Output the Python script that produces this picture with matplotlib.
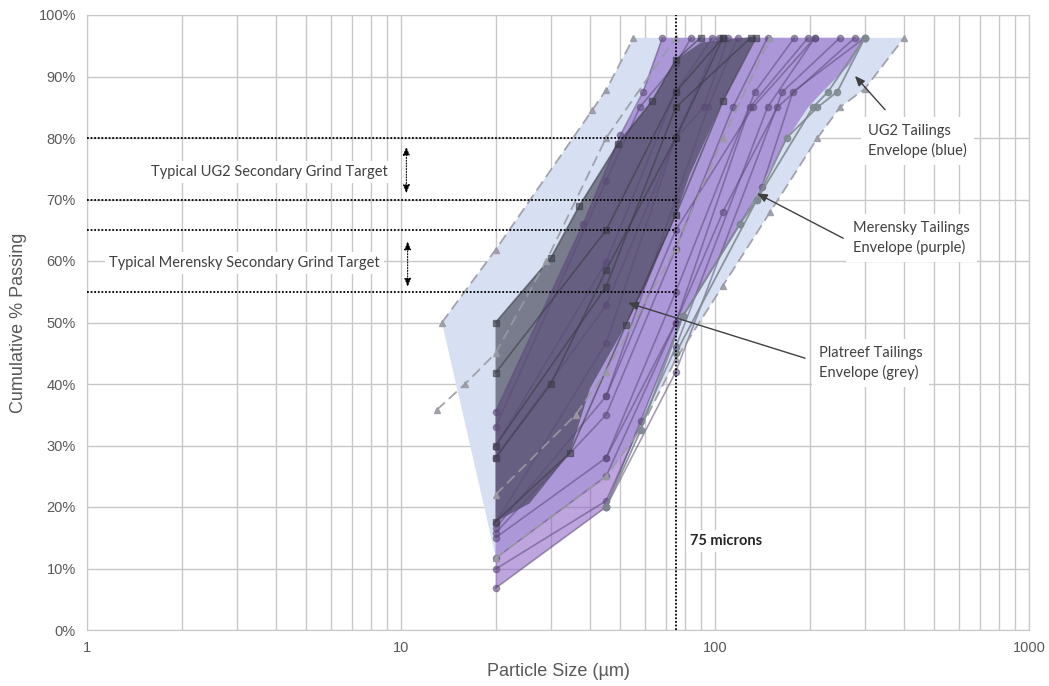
import matplotlib
matplotlib.use("Agg")
import matplotlib.pyplot as plt
from matplotlib.ticker import LogLocator, NullFormatter, FixedLocator, FixedFormatter, PercentFormatter

# ---------------------------------------------------------------------------
# Envelopes (particle size in um, cumulative % passing)
# ---------------------------------------------------------------------------
UG2_ENV_SIZE = [13.5, 20, 40.6, 45, 55, 400, 300, 250, 212, 150, 106, 75, 57.7, 45, 20]
UG2_ENV_PASS = [50, 61.8, 84.5, 87.8, 96.3, 96.3, 88, 85, 80, 68, 56, 44, 32.5, 25, 12]

MER_ENV_SIZE = [20, 20, 38, 50, 56, 59, 68, 300, 269, 220, 198, 173, 136, 120, 79, 58, 45]
MER_ENV_PASS = [6.8, 35.5, 66, 80.5, 85, 87.5, 96.3, 96.3, 92, 87.5, 85, 80.5, 71, 66, 51, 34, 20]

PLAT_ENV_SIZE = [20, 20, 30, 37, 49, 63, 75, 90, 135, 106, 83, 75, 61, 52, 40, 34.5, 25.7]
PLAT_ENV_PASS = [17.6, 50, 60.5, 69, 79, 86, 92.7, 95.5, 96.5, 86, 74, 67.5, 56.6, 49.6, 39.3, 28.8, 20.6]

# ---------------------------------------------------------------------------
# Individual tailings PSD curves
# ---------------------------------------------------------------------------
MER_SIZES = [
    [20, 38, 50, 59, 68],
    [20, 45, 57.6, 75, 84],
    [20, 45, 75, 98],
    [20, 45, 75, 92, 110],
    [20, 45, 75, 103],
    [20, 45, 75, 95, 118],
    [20, 45, 75, 114, 147],
    [20, 45, 75, 134, 179],
    [20, 45, 75, 129, 198],
    [20, 45, 75, 147, 208],
    [20, 45, 75, 164, 250],
    [45, 58, 79, 120, 141, 177, 300],
    [45, 75, 132, 208],
    [45, 75, 106, 158, 279],
]
MER_PASS = [
    [35.5, 66, 80.5, 87.5, 96.3],
    [33, 73, 85, 92, 96.3],
    [29.8, 59.8, 87.5, 96.3],
    [28, 52.8, 80, 85, 96.3],
    [17.4, 46.7, 80, 96.3],
    [16.6, 38, 70, 85, 96.3],
    [15.8, 35, 62, 85, 96.3],
    [15, 28, 55, 87.5, 96.3],
    [11.7, 25, 50, 85, 96.3],
    [9.9, 21, 46, 85, 96.3],
    [6.8, 20, 42, 87.5, 96.3],
    [20, 34, 51, 66, 72, 87.5, 96.3],
    [38, 65, 85, 96.3],
    [28, 50, 68, 85, 96.3],
]

PLAT_SIZES = [
    [20, 30, 37, 49, 63, 75, 90],
    [20, 45, 75, 106],
    [20, 45, 75, 130],
    [20, 34.5, 52, 75, 106, 135],
    [20, 30, 45, 75, 106],
]
PLAT_PASS = [
    [50, 60.5, 69, 79, 86, 92.7, 96.3],
    [41.8, 65, 87.5, 96.3],
    [30, 55.8, 85, 96.3],
    [17.6, 28.8, 49.6, 67.5, 86, 96.3],
    [28, 40, 58.5, 80, 96.3],
]

UG2_DASH_SIZES = [
    [13.5, 20, 40.6, 45, 55],
    [13, 16, 20, 29, 45, 75],
    [20, 45, 57.7, 75, 106, 150, 212, 250, 300, 400],
    [20, 36, 45, 75, 106, 150],
]
UG2_DASH_PASS = [
    [50, 61.8, 84.5, 87.8, 96.3],
    [35.8, 40, 45, 60, 80, 96.3],
    [11.7, 25, 32.5, 44, 56, 68, 80, 85, 88, 96.3],
    [22, 35, 42, 62, 80, 96.3],
]

UG2_SOLID_SIZES = [
    [45, 58, 79, 120, 136, 169, 212, 245, 300],
    [75, 136, 205, 229, 300],
]
UG2_SOLID_PASS = [
    [20, 32.5, 51, 66, 70, 80, 85, 87.5, 96.3],
    [45, 70, 85, 87.5, 96.3],
]

TARGET_LEVELS = [80, 70, 65, 55]
CUT_SIZE = 75

X_TICKS = [1, 10, 100, 1000]
X_LABELS = ["1", "10", "100", "1000"]
Y_TICKS = list(range(0, 101, 10))

TEXT_GREY = "#595959"
GRID_GREY = "#c8c8c8"
LABEL_FONT = ["Lato", "DejaVu Sans"]
TICK_FONT = ["Liberation Sans Narrow", "Liberation Sans", "DejaVu Sans"]


def main() -> None:
    fig = plt.figure(figsize=(10.49, 6.86), dpi=100)
    ax = fig.add_axes([87 / 1049, 56 / 686, 942 / 1049, 615 / 686])
    ax.set_xscale("log")
    ax.set_xlim(1, 1000)
    ax.set_ylim(0, 100)

    # grid
    ax.xaxis.set_major_locator(FixedLocator(X_TICKS))
    ax.xaxis.set_major_formatter(FixedFormatter(X_LABELS))
    ax.xaxis.set_minor_locator(LogLocator(base=10, subs=range(2, 10)))
    ax.xaxis.set_minor_formatter(NullFormatter())
    ax.set_yticks(Y_TICKS)
    ax.yaxis.set_major_formatter(PercentFormatter(100, decimals=0))
    ax.grid(which="both", color=GRID_GREY, lw=1.0, zorder=0)
    ax.set_axisbelow(True)
    ax.tick_params(which="both", length=0, colors=TEXT_GREY, labelsize=10.5, pad=8)
    for lbl in ax.get_xticklabels() + ax.get_yticklabels():
        lbl.set_family(TICK_FONT)
    for sp in ax.spines.values():
        sp.set_color(GRID_GREY)

    # envelopes
    ax.fill(UG2_ENV_SIZE, UG2_ENV_PASS, color="#d6e0f2", lw=0, zorder=1)
    ax.fill(MER_ENV_SIZE, MER_ENV_PASS, color="#8a5cc4", alpha=0.55, lw=0, zorder=2)
    ax.fill(PLAT_ENV_SIZE, PLAT_ENV_PASS, color="#3a3a48", alpha=0.6, lw=0, zorder=3)

    # curves
    for xs, ys in zip(MER_SIZES, MER_PASS):
        ax.plot(xs, ys, color="#5b4a78", alpha=0.55, lw=1.2, marker="o", ms=4.5, zorder=4)
    for xs, ys in zip(PLAT_SIZES, PLAT_PASS):
        ax.plot(xs, ys, color="#3d3d4a", alpha=0.6, lw=1.2, marker="s", ms=4.5, zorder=4)
    for xs, ys in zip(UG2_DASH_SIZES, UG2_DASH_PASS):
        ax.plot(xs, ys, color="#9a9aa4", alpha=0.9, lw=1.3, ls=(0, (6, 3)),
                marker="^", ms=4.5, zorder=4)
    for xs, ys in zip(UG2_SOLID_SIZES, UG2_SOLID_PASS):
        ax.plot(xs, ys, color="#7f8a90", alpha=0.9, lw=1.3, marker="o", ms=4.5, zorder=4)

    # grind target lines and 75 micron line
    for lvl in TARGET_LEVELS:
        ax.plot([1, CUT_SIZE], [lvl, lvl], color="black", lw=1.3, ls=(0, (1, 1)), zorder=5)
    ax.axvline(CUT_SIZE, color="black", lw=1.3, ls=(0, (1, 1)), zorder=5)

    box = dict(facecolor="white", edgecolor="none", pad=3)
    ax.text(3.8, 74.5, "Typical UG2 Secondary Grind Target", ha="center", va="center",
            fontsize=10.5, color="#404040", family=LABEL_FONT, bbox=box, zorder=6)
    ax.text(3.18, 59.7, "Typical Merensky Secondary Grind Target", ha="center", va="center",
            fontsize=10.5, color="#404040", family=LABEL_FONT, bbox=box, zorder=6)

    dbl = dict(arrowstyle="<|-|>,head_length=0.5,head_width=0.2", color="black",
               lw=0.8, ls=(0, (1, 1.5)), shrinkA=0, shrinkB=0)
    ax.annotate("", xy=(10.4, 78.6), xytext=(10.4, 71.0), arrowprops=dbl, zorder=6)
    ax.annotate("", xy=(10.5, 63.2), xytext=(10.5, 55.8), arrowprops=dbl, zorder=6)

    ax.text(83.3, 14.5, "75 microns", ha="left", va="center", fontsize=10.5,
            fontweight="bold", color="#262626", family=LABEL_FONT, bbox=box, zorder=6)

    # envelope callouts
    arrow = dict(arrowstyle="-|>,head_length=0.6,head_width=0.25", color="#404040",
                 lw=1.0, shrinkA=0, shrinkB=0)
    ax.text(307, 79.5, "UG2 Tailings\nEnvelope (blue)", ha="left", va="center",
            fontsize=10.5, color="#404040", family=LABEL_FONT, linespacing=1.4,
            bbox=dict(facecolor="white", edgecolor="none", pad=5), zorder=6)
    ax.annotate("", xy=(279, 90.1), xytext=(348, 84.6), arrowprops=arrow, zorder=6)

    ax.text(275, 63.7, "Merensky Tailings\nEnvelope (purple)", ha="left", va="center",
            fontsize=10.5, color="#404040", family=LABEL_FONT, linespacing=1.4,
            bbox=dict(facecolor="white", edgecolor="none", pad=5), zorder=6)
    ax.annotate("", xy=(136, 71), xytext=(256, 63.7), arrowprops=arrow, zorder=6)

    ax.text(214, 43.4, "Platreef Tailings\nEnvelope (grey)", ha="left", va="center",
            fontsize=10.5, color="#404040", family=LABEL_FONT, linespacing=1.4,
            bbox=dict(facecolor="white", edgecolor="none", pad=5), zorder=6)
    ax.annotate("", xy=(52.8, 53.2), xytext=(193.5, 44.2), arrowprops=arrow, zorder=6)

    ax.set_xlabel("Particle Size (\u00b5m)", fontsize=13, color=TEXT_GREY,
                  family=TICK_FONT, labelpad=6)
    ax.set_ylabel("Cumulative % Passing", fontsize=13, color=TEXT_GREY,
                  family=TICK_FONT, labelpad=8)

    fig.savefig("out.png", dpi=100)


if __name__ == "__main__":
    main()
